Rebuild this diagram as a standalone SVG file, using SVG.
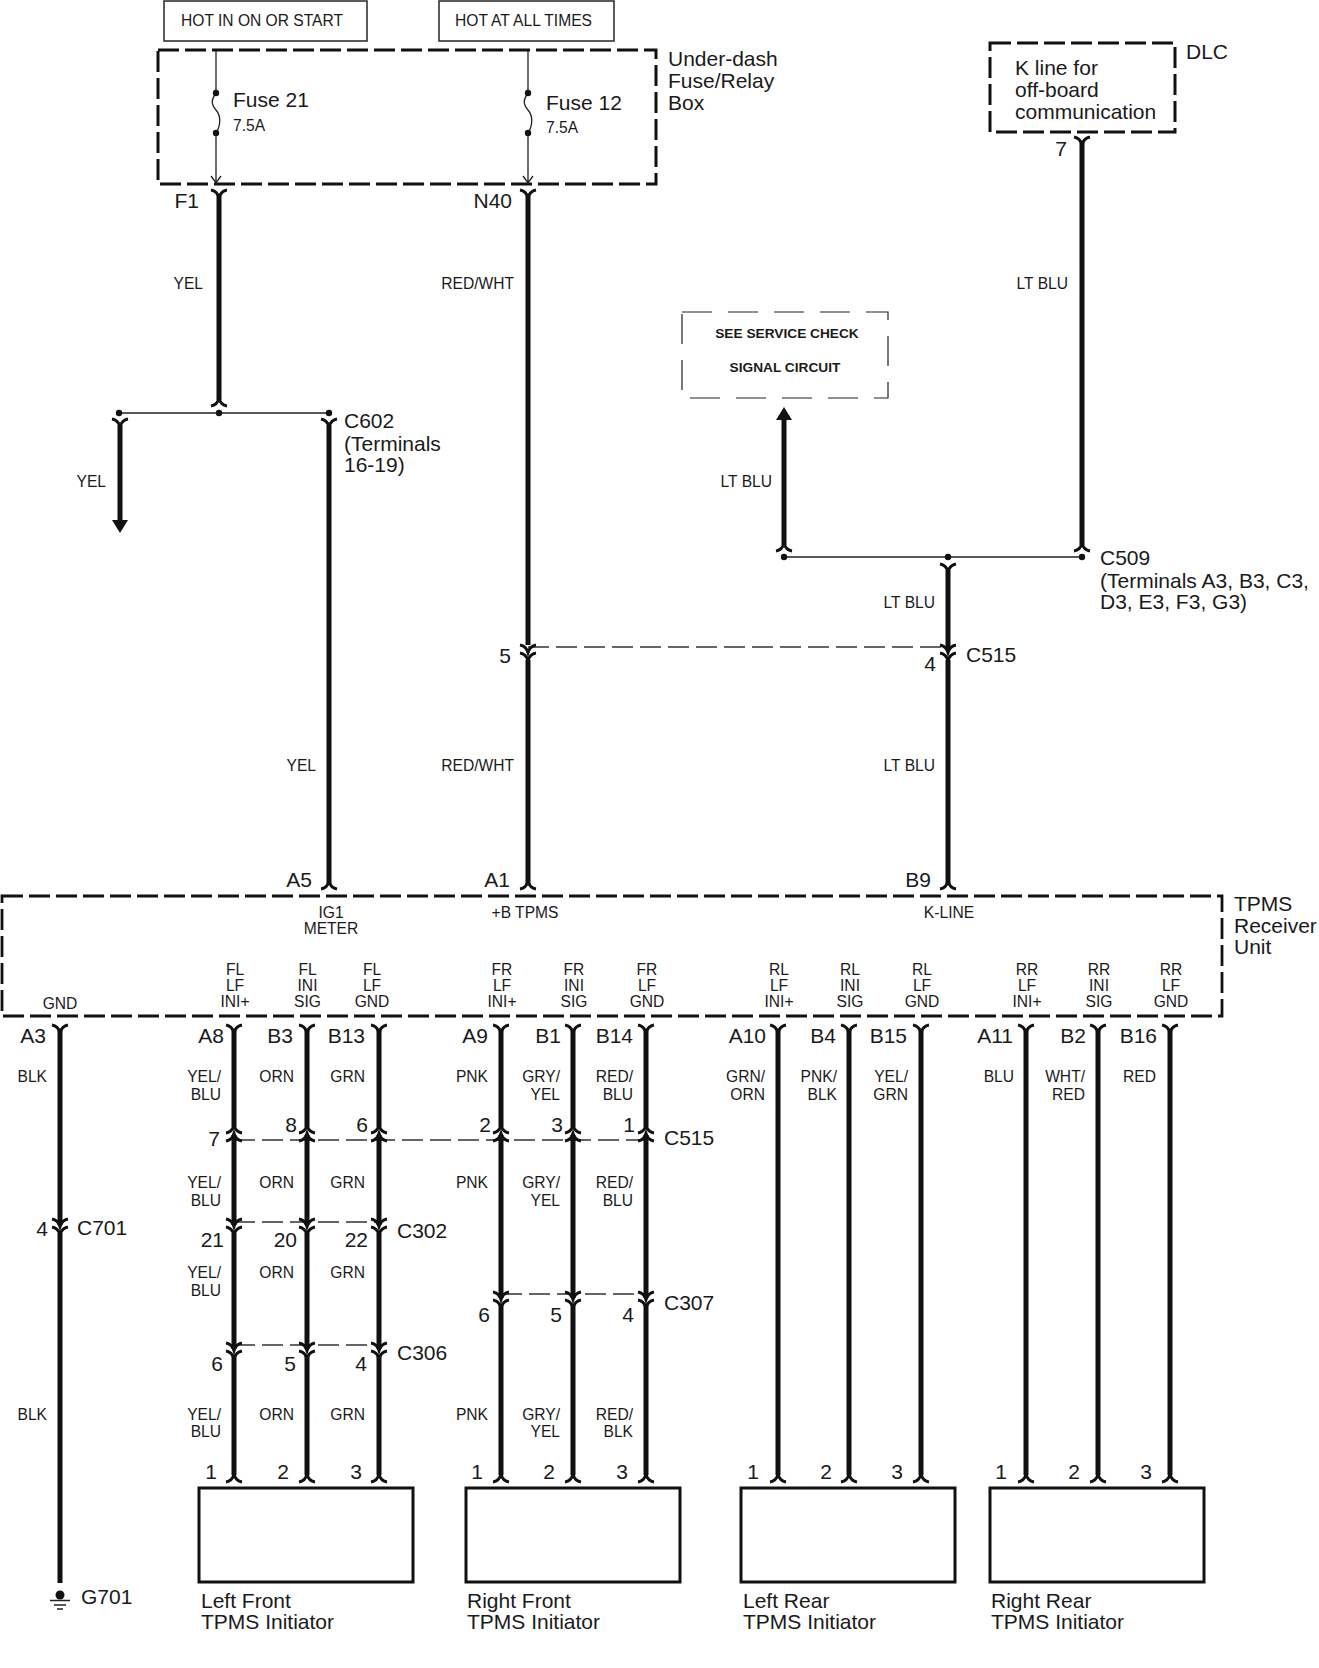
<svg xmlns="http://www.w3.org/2000/svg" width="1319" height="1668" viewBox="0 0 1319 1668">
<style>
text{font-family:"Liberation Sans",Arial,sans-serif;fill:#1a1a1a}
.l{font-size:21px}
.s{font-size:15.6px}
.e{text-anchor:end}
.c{text-anchor:middle}
.b{font-size:13.7px;font-weight:bold}
.box{fill:#fff;stroke:#111;stroke-width:3}
.top{fill:#fff;stroke:#333;stroke-width:1.6}
.dash{fill:none;stroke:#111;stroke-width:3;stroke-dasharray:21 6}
.thin{fill:none;stroke:#222;stroke-width:1.2;stroke-dasharray:30 16}
.w{stroke:#111;stroke-width:5;fill:none}
.t{stroke:#222;stroke-width:1.3;fill:none}
.d{stroke:#333;stroke-width:1.3;fill:none;stroke-dasharray:21 7}
.f{fill:none;stroke:#111;stroke-width:3}
</style>
<defs>
<path id="y" class="f" d="M-8,0Q-2,1 0,7.5Q2,1 8,0"/>
<path id="n" class="f" d="M-8,0Q-2,-1 0,-7.5Q2,-1 8,0"/>
<circle id="p" r="3.2" fill="#111"/>
</defs>

<g id="hot-start"><rect class="top" x="164" y="1" width="203" height="40"/><text x="181" y="26" class="s">HOT IN ON OR START</text></g>
<g id="hot-always"><rect class="top" x="439" y="1" width="175" height="40"/><text x="455" y="26" class="s">HOT AT ALL TIMES</text></g>

<g id="fuse-box">
<rect class="dash" x="158" y="50" width="498" height="134"/>
<text class="l" x="668" y="66">Under-dash</text><text class="l" x="668" y="88">Fuse/Relay</text><text class="l" x="668" y="110">Box</text>
<g id="fuse-21"><text class="l" x="233" y="107">Fuse 21</text><text class="s" x="233" y="131">7.5A</text>
<path class="t" d="M216,50V93M216,133V183M211,176L216,183L221,176M216,93C211,100 211,104 216,110C221,116 221,125 216,133"/><use href="#p" x="216" y="93"/><use href="#p" x="216" y="133"/></g>
<g id="fuse-12"><text class="l" x="546" y="110">Fuse 12</text><text class="s" x="546" y="133">7.5A</text>
<path class="t" d="M528,50V93M528,133V183M523,176L528,183L533,176M528,93C523,100 523,104 528,110C533,116 533,125 528,133"/><use href="#p" x="528" y="93"/><use href="#p" x="528" y="133"/></g>
</g>

<g id="dlc"><rect class="dash" x="990" y="43" width="185" height="89"/>
<text class="l" x="1186" y="59">DLC</text><text class="l" x="1015" y="75">K line for</text><text class="l" x="1015" y="97">off-board</text><text class="l" x="1015" y="119">communication</text></g>

<g id="service-check"><rect class="thin" x="682" y="312" width="206" height="86"/>
<text class="b c" x="787" y="338">SEE SERVICE CHECK</text><text class="b c" x="785" y="372">SIGNAL CIRCUIT</text></g>

<g id="tpms-receiver"><rect class="dash" x="2" y="896" width="1220" height="120" style="stroke-width:2.8"/>
<text class="l" x="1234" y="911">TPMS</text><text class="l" x="1234" y="933">Receiver</text><text class="l" x="1234" y="954">Unit</text>
<g class="s">
<text class="s c" x="331" y="918">IG1</text><text class="s c" x="331" y="934">METER</text>
<text class="s c" x="525" y="918">+B TPMS</text><text class="s c" x="949" y="918">K-LINE</text>
<text class="s c" x="60" y="1009">GND</text>
<text class="s c" x="235" y="975">FL</text><text class="s c" x="235" y="991">LF</text><text class="s c" x="235" y="1007">INI+</text>
<text class="s c" x="307.500" y="975">FL</text><text class="s c" x="307.500" y="991">INI</text><text class="s c" x="307.500" y="1007">SIG</text>
<text class="s c" x="372" y="975">FL</text><text class="s c" x="372" y="991">LF</text><text class="s c" x="372" y="1007">GND</text>
<text class="s c" x="502" y="975">FR</text><text class="s c" x="502" y="991">LF</text><text class="s c" x="502" y="1007">INI+</text>
<text class="s c" x="574" y="975">FR</text><text class="s c" x="574" y="991">INI</text><text class="s c" x="574" y="1007">SIG</text>
<text class="s c" x="647" y="975">FR</text><text class="s c" x="647" y="991">LF</text><text class="s c" x="647" y="1007">GND</text>
<text class="s c" x="779" y="975">RL</text><text class="s c" x="779" y="991">LF</text><text class="s c" x="779" y="1007">INI+</text>
<text class="s c" x="850" y="975">RL</text><text class="s c" x="850" y="991">INI</text><text class="s c" x="850" y="1007">SIG</text>
<text class="s c" x="922" y="975">RL</text><text class="s c" x="922" y="991">LF</text><text class="s c" x="922" y="1007">GND</text>
<text class="s c" x="1027" y="975">RR</text><text class="s c" x="1027" y="991">LF</text><text class="s c" x="1027" y="1007">INI+</text>
<text class="s c" x="1099" y="975">RR</text><text class="s c" x="1099" y="991">INI</text><text class="s c" x="1099" y="1007">SIG</text>
<text class="s c" x="1171" y="975">RR</text><text class="s c" x="1171" y="991">LF</text><text class="s c" x="1171" y="1007">GND</text>
</g></g>

<g id="left-front-initiator"><rect class="box" x="199" y="1488" width="214" height="94"/><text class="l" x="201" y="1608">Left Front</text><text class="l" x="201" y="1629">TPMS Initiator</text></g>
<g id="right-front-initiator"><rect class="box" x="466" y="1488" width="214" height="94"/><text class="l" x="467" y="1608">Right Front</text><text class="l" x="467" y="1629">TPMS Initiator</text></g>
<g id="left-rear-initiator"><rect class="box" x="741" y="1488" width="214" height="94"/><text class="l" x="743" y="1608">Left Rear</text><text class="l" x="743" y="1629">TPMS Initiator</text></g>
<g id="right-rear-initiator"><rect class="box" x="990" y="1488" width="214" height="94"/><text class="l" x="991" y="1608">Right Rear</text><text class="l" x="991" y="1629">TPMS Initiator</text></g>

<g id="ground-g701"><circle cx="60" cy="1595" r="4.5" fill="#111"/><path class="t" d="M50,1600.500H70M54,1605H66M57,1609H63"/><text class="l" x="81" y="1604">G701</text></g>

<g id="connectors">
<path class="w" d="M219,195V400M528,195V645M528,660V884M1082,142V545M784,545V418M948,570V650M948,660V884M120,425V522M329,425V884"/>
<path fill="#111" stroke="none" d="M112,520H128L120,533ZM776,420H792L784,407Z"/>
<path class="t" style="stroke-width:1.6" d="M119,413H329M784,557H1082"/>
<path class="d" d="M528,647H948M234,1140H647M234,1222H379M234,1345H379M501,1294H646"/>
<use href="#p" x="119" y="413"/><use href="#p" x="219" y="413"/><use href="#p" x="329" y="413"/>
<use href="#p" x="784" y="557"/><use href="#p" x="948" y="557"/><use href="#p" x="1082" y="557"/>
<use href="#y" x="219" y="190"/><use href="#y" x="528" y="190"/><use href="#y" x="1082" y="137"/>
<use href="#n" x="219" y="406"/><use href="#y" x="120" y="419"/><use href="#y" x="329" y="419"/>
<use href="#n" x="784" y="551"/><use href="#n" x="1082" y="551"/><use href="#y" x="948" y="564"/>
<use href="#y" x="528" y="645"/><use href="#y" x="528" y="653"/><use href="#y" x="948" y="645"/><use href="#y" x="948" y="653"/>
<use href="#n" x="329" y="889"/><use href="#n" x="528" y="889"/><use href="#n" x="948" y="889"/>
<path class="w" d="M60,1030V1225M60,1233V1583
M234,1030V1127M234,1135V1225M234,1233V1349M234,1356V1475
M307,1030V1127M307,1135V1225M307,1233V1349M307,1356V1475
M379,1030V1127M379,1135V1225M379,1233V1349M379,1356V1475
M501,1030V1127M501,1135V1298M501,1305V1475
M573,1030V1127M573,1135V1298M573,1305V1475
M646,1030V1127M646,1135V1298M646,1305V1475
M778,1030V1475M849,1030V1475M921,1030V1475M1026,1030V1475M1098,1030V1475M1170,1030V1475"/>
<use href="#y" x="60" y="1025"/><use href="#y" x="234" y="1025"/><use href="#y" x="307" y="1025"/><use href="#y" x="379" y="1025"/><use href="#y" x="501" y="1025"/><use href="#y" x="573" y="1025"/><use href="#y" x="646" y="1025"/><use href="#y" x="778" y="1025"/><use href="#y" x="849" y="1025"/><use href="#y" x="921" y="1025"/><use href="#y" x="1026" y="1025"/><use href="#y" x="1098" y="1025"/><use href="#y" x="1170" y="1025"/>
<use href="#n" x="234" y="1133"/><use href="#n" x="234" y="1141"/><use href="#n" x="307" y="1133"/><use href="#n" x="307" y="1141"/><use href="#n" x="379" y="1133"/><use href="#n" x="379" y="1141"/><use href="#n" x="501" y="1133"/><use href="#n" x="501" y="1141"/><use href="#n" x="573" y="1133"/><use href="#n" x="573" y="1141"/><use href="#n" x="646" y="1133"/><use href="#n" x="646" y="1141"/>
<use href="#y" x="60" y="1219"/><use href="#y" x="60" y="1227"/>
<use href="#y" x="234" y="1219"/><use href="#y" x="234" y="1227"/><use href="#y" x="307" y="1219"/><use href="#y" x="307" y="1227"/><use href="#y" x="379" y="1219"/><use href="#y" x="379" y="1227"/>
<use href="#y" x="234" y="1343"/><use href="#y" x="234" y="1351"/><use href="#y" x="307" y="1343"/><use href="#y" x="307" y="1351"/><use href="#y" x="379" y="1343"/><use href="#y" x="379" y="1351"/>
<use href="#y" x="501" y="1292"/><use href="#y" x="501" y="1300"/><use href="#y" x="573" y="1292"/><use href="#y" x="573" y="1300"/><use href="#y" x="646" y="1292"/><use href="#y" x="646" y="1300"/>
<use href="#n" x="234" y="1482"/><use href="#n" x="307" y="1482"/><use href="#n" x="379" y="1482"/><use href="#n" x="501" y="1482"/><use href="#n" x="573" y="1482"/><use href="#n" x="646" y="1482"/><use href="#n" x="778" y="1482"/><use href="#n" x="849" y="1482"/><use href="#n" x="921" y="1482"/><use href="#n" x="1026" y="1482"/><use href="#n" x="1098" y="1482"/><use href="#n" x="1170" y="1482"/>
</g>

<g id="wire-labels">
<text class="s e" x="203" y="289">YEL</text><text class="s e" x="514" y="289">RED/WHT</text><text class="s e" x="1068" y="289">LT BLU</text>
<text class="s e" x="106" y="487">YEL</text><text class="s e" x="772" y="487">LT BLU</text><text class="s e" x="935" y="608">LT BLU</text>
<text class="s e" x="316" y="771">YEL</text><text class="s e" x="514" y="771">RED/WHT</text><text class="s e" x="935" y="771">LT BLU</text>
<text class="s e" x="47" y="1082">BLK</text>
<text class="s e" x="221" y="1082">YEL/</text><text class="s e" x="221" y="1100">BLU</text><text class="s e" x="294" y="1082">ORN</text><text class="s e" x="365" y="1082">GRN</text>
<text class="s e" x="488" y="1082">PNK</text><text class="s e" x="560" y="1082">GRY/</text><text class="s e" x="560" y="1100">YEL</text><text class="s e" x="633" y="1082">RED/</text><text class="s e" x="633" y="1100">BLU</text>
<text class="s e" x="765" y="1082">GRN/</text><text class="s e" x="765" y="1100">ORN</text><text class="s e" x="837" y="1082">PNK/</text><text class="s e" x="837" y="1100">BLK</text><text class="s e" x="908" y="1082">YEL/</text><text class="s e" x="908" y="1100">GRN</text>
<text class="s e" x="1014" y="1082">BLU</text><text class="s e" x="1085" y="1082">WHT/</text><text class="s e" x="1085" y="1100">RED</text><text class="s e" x="1156" y="1082">RED</text>
<text class="s e" x="221" y="1188">YEL/</text><text class="s e" x="221" y="1206">BLU</text><text class="s e" x="294" y="1188">ORN</text><text class="s e" x="365" y="1188">GRN</text>
<text class="s e" x="488" y="1188">PNK</text><text class="s e" x="560" y="1188">GRY/</text><text class="s e" x="560" y="1206">YEL</text><text class="s e" x="633" y="1188">RED/</text><text class="s e" x="633" y="1206">BLU</text>
<text class="s e" x="221" y="1278">YEL/</text><text class="s e" x="221" y="1296">BLU</text><text class="s e" x="294" y="1278">ORN</text><text class="s e" x="365" y="1278">GRN</text>
<text class="s e" x="47" y="1420">BLK</text>
<text class="s e" x="221" y="1420">YEL/</text><text class="s e" x="221" y="1437">BLU</text><text class="s e" x="294" y="1420">ORN</text><text class="s e" x="365" y="1420">GRN</text>
<text class="s e" x="488" y="1420">PNK</text><text class="s e" x="560" y="1420">GRY/</text><text class="s e" x="560" y="1437">YEL</text><text class="s e" x="633" y="1420">RED/</text><text class="s e" x="633" y="1437">BLK</text>
</g>

<g id="pin-labels">
<text class="l e" x="199" y="208">F1</text><text class="l e" x="512" y="208">N40</text><text class="l e" x="1067" y="156">7</text>
<text class="l" x="344" y="428">C602</text><text class="l" x="344" y="451">(Terminals</text><text class="l" x="344" y="472">16-19)</text>
<text class="l" x="1100" y="565">C509</text><text class="l" x="1100" y="588">(Terminals A3, B3, C3,</text><text class="l" x="1100" y="609">D3, E3, F3, G3)</text>
<text class="l e" x="511" y="663">5</text><text class="l e" x="936" y="671">4</text><text class="l" x="966" y="662">C515</text>
<text class="l e" x="312" y="887">A5</text><text class="l e" x="510" y="887">A1</text><text class="l e" x="931" y="887">B9</text>
<text class="l e" x="46" y="1043">A3</text><text class="l e" x="224" y="1043">A8</text><text class="l e" x="293" y="1043">B3</text><text class="l e" x="365" y="1043">B13</text><text class="l e" x="488" y="1043">A9</text><text class="l e" x="561" y="1043">B1</text><text class="l e" x="633" y="1043">B14</text><text class="l e" x="766" y="1043">A10</text><text class="l e" x="836" y="1043">B4</text><text class="l e" x="907" y="1043">B15</text><text class="l e" x="1013" y="1043">A11</text><text class="l e" x="1086" y="1043">B2</text><text class="l e" x="1157" y="1043">B16</text>
<text class="l e" x="220" y="1146">7</text><text class="l e" x="297" y="1132">8</text><text class="l e" x="368" y="1132">6</text><text class="l e" x="491" y="1132">2</text><text class="l e" x="563" y="1132">3</text><text class="l e" x="635" y="1132">1</text><text class="l" x="664" y="1145">C515</text>
<text class="l e" x="48" y="1236">4</text><text class="l" x="77" y="1235">C701</text>
<text class="l e" x="224" y="1247">21</text><text class="l e" x="297" y="1247">20</text><text class="l e" x="368" y="1247">22</text><text class="l" x="397" y="1238">C302</text>
<text class="l e" x="223" y="1371">6</text><text class="l e" x="296" y="1371">5</text><text class="l e" x="367" y="1371">4</text><text class="l" x="397" y="1360">C306</text>
<text class="l e" x="490" y="1322">6</text><text class="l e" x="562" y="1322">5</text><text class="l e" x="634" y="1322">4</text><text class="l" x="664" y="1310">C307</text>
<text class="l e" x="217" y="1479">1</text><text class="l e" x="289" y="1479">2</text><text class="l e" x="362" y="1479">3</text><text class="l e" x="483" y="1479">1</text><text class="l e" x="555" y="1479">2</text><text class="l e" x="628" y="1479">3</text><text class="l e" x="759" y="1479">1</text><text class="l e" x="832" y="1479">2</text><text class="l e" x="903" y="1479">3</text><text class="l e" x="1007" y="1479">1</text><text class="l e" x="1080" y="1479">2</text><text class="l e" x="1152" y="1479">3</text>
</g>
</svg>
